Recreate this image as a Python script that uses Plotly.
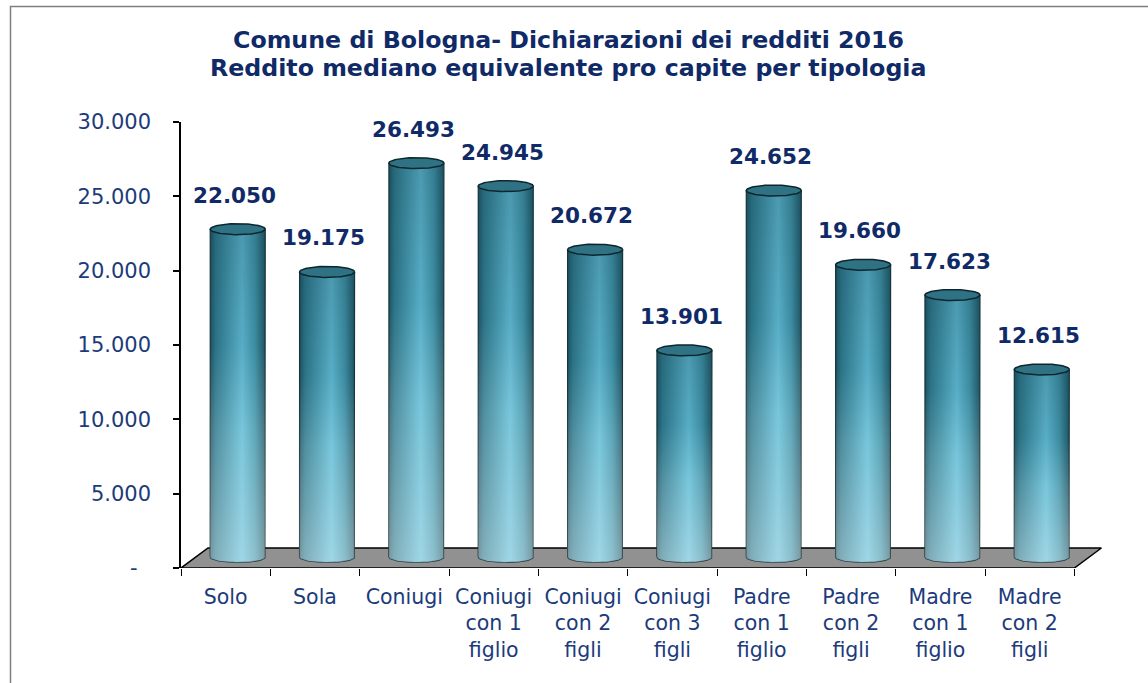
import numpy as np
import plotly.graph_objects as go

# ---------------- data ----------------
categories = ["Solo", "Sola", "Coniugi",
              "Coniugi<br>con 1<br>figlio", "Coniugi<br>con 2<br>figli", "Coniugi<br>con 3<br>figli",
              "Padre<br>con 1<br>figlio", "Padre<br>con 2<br>figli",
              "Madre<br>con 1<br>figlio", "Madre<br>con 2<br>figli"]
values = [22050, 19175, 26493, 24945, 20672, 13901, 24652, 19660, 17623, 12615]
y_tick_values = [0, 5000, 10000, 15000, 20000, 25000, 30000]
y_tick_labels = ["-\u00a0\u00a0", "5.000", "10.000", "15.000", "20.000", "25.000", "30.000"]
title_lines = ["Comune di Bologna- Dichiarazioni dei redditi 2016",
               "Reddito mediano equivalente pro capite per tipologia"]

def fmt(v):
    return f"{v:,}".replace(",", ".")

# ---------------- geometry ----------------
W, H = 1148, 683
ML, MR, MT, MB = 181, 45, 122, 115
XMIN, XMAX = -0.5, 9.82
YMIN, YMAX = 0, 30000
plot_w = W - ML - MR
plot_h = H - MT - MB
px_x = plot_w / (XMAX - XMIN)          # pixels per category unit
px_y = plot_h / (YMAX - YMIN)          # pixels per value unit

def paper_x(px):
    return (px - ML) / plot_w

def paper_y(py):
    return (H - MB - py) / plot_h

DEPTH_X = 27 / px_x                    # floor depth offset
DEPTH_Y = 20 / px_y
CX_OFF = 0.135                         # cylinder centre offset (half depth)
CY_OFF = 11 / px_y
RAD = 27.5 / px_x                      # cylinder radius (x)
ELL = 5.5 / px_y                       # ellipse half height (y)

FONT = "DejaVu Sans"
NAVY = "#0f2a66"
TICK_COL = "#1c3b7a"

fig = go.Figure()

# floor
n = len(categories)
fx = [-0.5, n - 0.5, n - 0.5 + DEPTH_X, -0.5 + DEPTH_X, -0.5]
fy = [0, 0, DEPTH_Y, DEPTH_Y, 0]
fig.add_trace(go.Scatter(x=fx, y=fy, mode="lines", fill="toself", fillcolor="#919191",
                         line=dict(color="#000000", width=1.5), hoverinfo="skip",
                         showlegend=False, cliponaxis=False))

body_scale = [[0.0, "#1f5664"], [0.1, "#2f7a8e"], [0.58, "#60bcd5"],
              [0.82, "#4195ab"], [1.0, "#215967"]]
light_scale = [[0.0, "rgba(255,255,255,0.40)"], [0.65, "rgba(255,255,255,0)"],
               [1.0, "rgba(255,255,255,0)"]]
dark_scale = [[0.0, "rgba(15,55,70,0)"], [0.4, "rgba(15,55,70,0)"],
              [1.0, "rgba(15,55,70,0.26)"]]

th = np.linspace(0, np.pi, 40)
tf = np.linspace(0, 2 * np.pi, 80)
for i, v in enumerate(values):
    cx = i + CX_OFF
    yb = CY_OFF
    yt = v + CY_OFF
    bx = [cx - RAD, cx - RAD, cx + RAD, cx + RAD] + list(cx + RAD * np.cos(th))
    by = [yb, yt, yt, yb] + list(yb - ELL * np.sin(th))
    fig.add_trace(go.Scatter(x=bx, y=by, mode="lines", fill="toself",
                             fillgradient=dict(type="horizontal", colorscale=body_scale),
                             line=dict(color="#16343c", width=1.2),
                             hoverinfo="skip", showlegend=False, cliponaxis=False))
    for sc in (light_scale, dark_scale):
        fig.add_trace(go.Scatter(x=bx, y=by, mode="lines", fill="toself",
                                 fillgradient=dict(type="vertical", colorscale=sc),
                                 line=dict(width=0, color="rgba(0,0,0,0)"),
                                 hoverinfo="skip", showlegend=False, cliponaxis=False))
    # top cap
    fig.add_trace(go.Scatter(x=list(cx + RAD * np.cos(tf)), y=list(yt + ELL * np.sin(tf)),
                             mode="lines", fill="toself", fillcolor="#2e7284",
                             line=dict(color="#0e272e", width=1.5),
                             hoverinfo="skip", showlegend=False, cliponaxis=False))
    fig.add_annotation(x=i + 0.1, y=v, xref="x", yref="y", text=fmt(v), showarrow=False,
                       yshift=45, font=dict(family=FONT, size=21.5, color=NAVY, weight="bold"))

# dummy trace on overlay axis (boundary ticks)
fig.add_trace(go.Scatter(x=[0], y=[0], xaxis="x2", mode="markers",
                         marker=dict(opacity=0), hoverinfo="skip", showlegend=False))

# title (two lines)
for line, py in zip(title_lines, [40.5, 67.5]):
    fig.add_annotation(x=paper_x(568), y=paper_y(py), xref="paper", yref="paper",
                       text=line, showarrow=False, xanchor="center", yanchor="middle",
                       font=dict(family=FONT, size=23.7, color=NAVY, weight="bold"))

fig.update_layout(
    width=W, height=H,
    margin=dict(l=ML, r=MR, t=MT, b=MB),
    paper_bgcolor="white", plot_bgcolor="rgba(0,0,0,0)",
    xaxis=dict(range=[XMIN, XMAX], tickvals=list(range(n)), ticktext=categories,
               showline=False, showgrid=False, zeroline=False, ticks="",
               tickfont=dict(family=FONT, size=20.5, color=TICK_COL),
               ticklabelstandoff=14, fixedrange=True),
    xaxis2=dict(range=[XMIN, XMAX], overlaying="x", anchor="y", side="bottom",
                tickvals=[k - 0.5 for k in range(n + 1)], ticks="outside", ticklen=7,
                tickcolor="#000000", tickwidth=1.2, showticklabels=False,
                showline=False, showgrid=False, zeroline=False),
    yaxis=dict(range=[YMIN, YMAX], tickvals=y_tick_values, ticktext=y_tick_labels,
               showline=True, linecolor="#000000", linewidth=1.5,
               ticks="outside", ticklen=6, tickcolor="#000000", tickwidth=1.5,
               showgrid=False, zeroline=False, ticklabelstandoff=18,
               tickfont=dict(family=FONT, size=21, color=TICK_COL)),
    showlegend=False,
)

# chart border
fig.add_shape(type="rect", xref="paper", yref="paper",
              x0=paper_x(10.5), x1=paper_x(1165),
              y0=paper_y(700), y1=paper_y(6.5),
              line=dict(color="#7f7f7f", width=1.5), fillcolor="rgba(0,0,0,0)", layer="below")

fig.write_html("out.html",
               config={"displayModeBar": False},
               post_script="document.body.style.margin='0px';"
                           "document.documentElement.style.overflow='hidden';"
                           "document.body.style.overflow='hidden';")
